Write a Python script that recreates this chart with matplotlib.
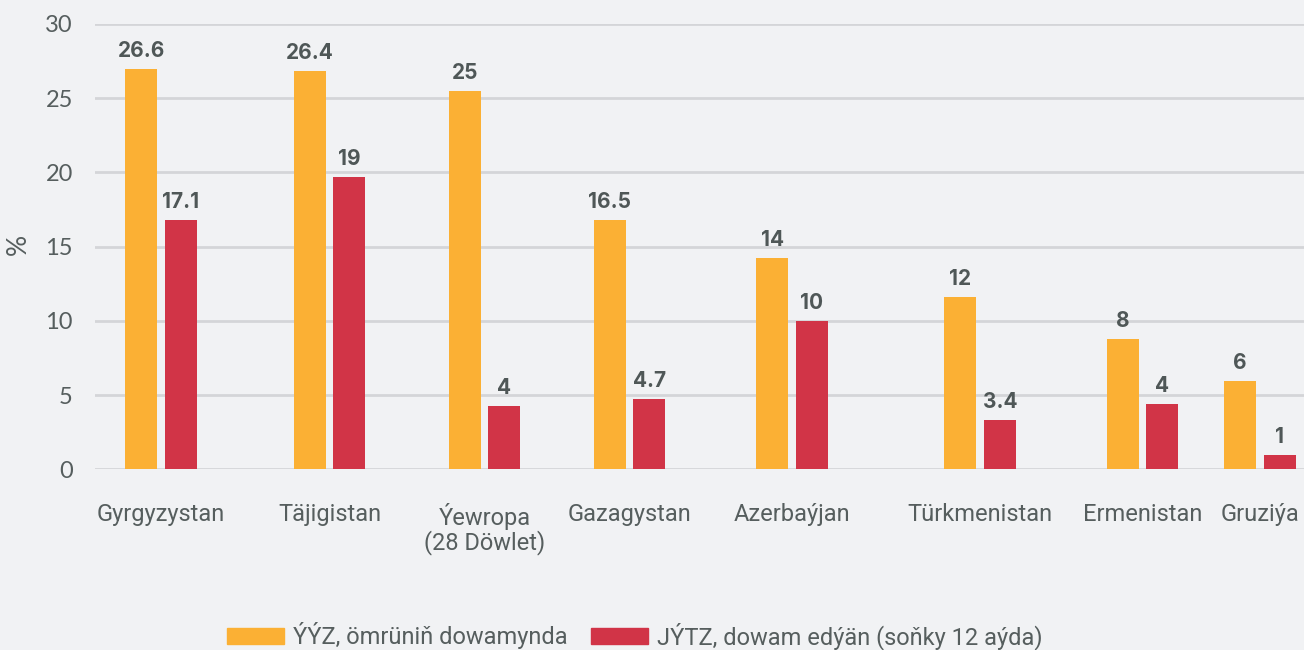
import matplotlib
matplotlib.use("Agg")
import matplotlib.pyplot as plt
from matplotlib.patches import Patch

# data
countries = ["Gyrgyzystan", "Täjigistan", "Ýewropa\n(28 Döwlet)", "Gazagystan",
             "Azerbaýjan", "Türkmenistan", "Ermenistan", "Gruziýa"]
lifetime = [26.95, 26.85, 25.5, 16.8, 14.25, 11.6, 8.8, 5.95]
last_year = [16.8, 19.7, 4.25, 4.75, 10.0, 3.3, 4.4, 0.95]
lifetime_labels = ["26.6", "26.4", "25", "16.5", "14", "12", "8", "6"]
last_year_labels = ["17.1", "19", "4", "4.7", "10", "3.4", "4", "1"]
series_names = ["ÝÝZ, ömrüniň dowamynda", "JÝTZ, dowam edýän (soňky 12 aýda)"]

# layout: group centres (the original spacing is uneven)
centres = [161, 329.5, 484.5, 629.5, 792, 980, 1142.5, 1260]
offset = 19.75
width = 32

bg = "#f1f2f4"
orange = "#fbb034"
red = "#d13447"
text_col = "#565e5e"
label_col = "#4f5757"

W, H = 1304, 650
fig = plt.figure(figsize=(W / 100, H / 100), dpi=100, facecolor=bg)
ax = fig.add_axes([95 / W, 1 - 469.3 / H, (1304 - 95) / W, (469.3 - 24) / H], facecolor=bg)

xo = [c - offset for c in centres]
xr = [c + offset for c in centres]
ax.bar(xo, lifetime, width=width, color=orange, zorder=3)
ax.bar(xr, last_year, width=width, color=red, zorder=3)

for x, v, s in zip(xo, lifetime, lifetime_labels):
    ax.text(x, v + 0.55, s, ha="center", va="bottom", fontsize=15, fontweight="bold",
            family="Inter", color=label_col)
for x, v, s in zip(xr, last_year, last_year_labels):
    ax.text(x, v + 0.55, s, ha="center", va="bottom", fontsize=15, fontweight="bold",
            family="Inter", color=label_col)

ax.set_xlim(95, 1304)
ax.set_ylim(0, 30)
ax.set_yticks(range(0, 31, 5))
ax.yaxis.grid(True, color="#d4d5d8", linewidth=2, zorder=0)
ax.set_axisbelow(True)
for sp in ax.spines.values():
    sp.set_visible(False)
ax.tick_params(axis="y", length=0, pad=16, labelsize=17, labelcolor=text_col)
for t in ax.get_yticklabels():
    t.set_family("Lato")
ax.set_xticks(centres)
ax.set_xticklabels(countries, family="Roboto", fontsize=17, color=text_col,
                   va="top", linespacing=1.0)
ax.tick_params(axis="x", length=0, pad=24)

fig.text(18 / W, 1 - 244 / H, "%", rotation=90, ha="center", va="center",
         fontsize=19, color=text_col, family="Lato")

handles = [Patch(color=orange), Patch(color=red)]
leg = fig.legend(handles, series_names, loc="center", ncol=2, frameon=False,
                 bbox_to_anchor=(635 / W, 1 - 636 / H), prop={"family": "Roboto", "size": 17},
                 handlelength=2.4, handleheight=0.72, handletextpad=0.4,
                 columnspacing=1.0)
for t in leg.get_texts():
    t.set_color(text_col)

fig.savefig("out.png", dpi=100, facecolor=bg)
